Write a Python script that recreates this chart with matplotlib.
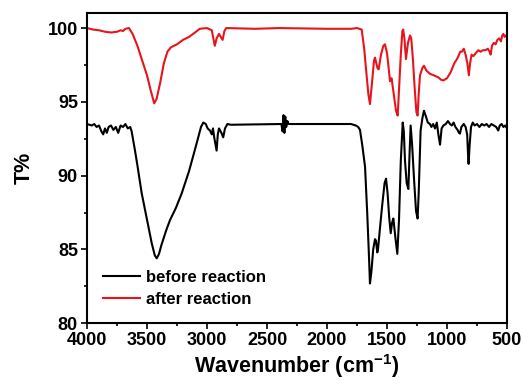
import matplotlib
matplotlib.use("Agg")
import matplotlib.pyplot as plt
from matplotlib.ticker import MultipleLocator

plt.rcParams['font.family'] = ['Liberation Sans', 'DejaVu Sans']
plt.rcParams['font.weight'] = 'bold'
plt.rcParams['mathtext.fontset'] = 'custom'
plt.rcParams['mathtext.bf'] = 'Liberation Sans:bold'
plt.rcParams['mathtext.rm'] = 'Liberation Sans:bold'
plt.rcParams['mathtext.default'] = 'bf'

# ---- data (wavenumber cm^-1, transmittance %) ----
after_wn = [4000, 3950, 3900, 3850, 3800, 3750, 3720, 3700, 3680, 3650, 3620, 3580, 3540,
            3500, 3470, 3440, 3420, 3390, 3360, 3330, 3300, 3250, 3200, 3150, 3100, 3060,
            3000, 2960, 2935, 2920, 2900, 2870, 2855, 2840, 2600, 2400, 2000, 1800, 1750,
            1711, 1690, 1670, 1655, 1642, 1625, 1608, 1600, 1580, 1570, 1550, 1530, 1517,
            1500, 1485, 1475, 1462, 1440, 1425, 1411, 1400, 1385, 1372, 1365, 1355, 1342,
            1325, 1308, 1298, 1285, 1270, 1255, 1245, 1236, 1225, 1205, 1192, 1170, 1142,
            1110, 1072, 1050, 1030, 1000, 970, 940, 910, 890, 875, 860, 845, 830, 818, 808,
            795, 780, 760, 740, 720, 700, 680, 660, 645, 636, 625, 610, 595, 580, 565, 550,
            540, 530, 520, 510, 500]
after_t = [100.0, 99.9, 99.85, 99.75, 99.7, 99.75, 99.85, 99.8, 99.95, 100.0, 99.6, 98.8, 97.8,
           96.8, 95.8, 94.9, 95.2, 96.3, 97.6, 98.4, 98.7, 98.9, 99.2, 99.4, 99.7, 99.95,
           100.0, 99.85, 98.8, 99.3, 99.6, 99.2, 99.8, 100.0, 99.95, 100.0, 99.95, 99.95, 100.0,
           99.9, 98.6, 96.8, 95.5, 94.85, 96.3, 97.8, 98.0, 97.3, 97.2, 98.2, 98.8, 98.9,
           98.3, 97.2, 96.4, 96.6, 95.3, 94.4, 94.07, 95.8, 98.2, 99.8, 99.9, 99.3, 97.9,
           99.0, 99.5, 99.3, 98.0, 96.0, 94.3, 94.07, 95.5, 96.8, 97.3, 97.45, 97.1, 96.9,
           96.8, 96.66, 96.5, 96.45, 96.6, 97.0, 97.6, 98.0, 98.4, 98.4, 98.6, 98.2, 97.6, 96.8, 97.6,
           98.2, 98.1, 98.3, 98.5, 98.4, 98.5, 98.5, 98.6, 98.4, 98.2, 98.8, 99.0, 98.9, 99.2, 99.3, 99.1,
           99.5, 99.6, 99.4, 99.5, 99.4]

before_wn = [4000, 3960, 3940, 3920, 3900, 3880, 3865, 3850, 3835, 3820, 3800, 3780, 3760,
             3740, 3720, 3700, 3680, 3660, 3640, 3628, 3600, 3580, 3544, 3500, 3460, 3435,
             3419, 3400, 3380, 3340, 3308, 3260, 3211, 3150, 3086, 3050, 3031, 3010, 2995,
             2975, 2960, 2950, 2940, 2920, 2910, 2900, 2880, 2865, 2850, 2830, 2800, 2400,
             2380, 2370, 2362, 2355, 2348, 2340, 2330, 2320, 2200, 2000, 1800, 1760, 1740,
             1725, 1705, 1683, 1665, 1650, 1642, 1630, 1615, 1600, 1592, 1581, 1575, 1558,
             1540, 1520, 1508, 1495, 1482, 1469, 1458, 1447, 1430, 1414, 1400, 1385, 1369,
             1360, 1350, 1336, 1322, 1312, 1303, 1290, 1275, 1258, 1245, 1236, 1220, 1205,
             1192, 1175, 1160, 1142, 1130, 1115, 1100, 1085, 1072, 1058, 1045, 1030, 1010,
             992, 975, 960, 945, 930, 912, 900, 892, 880, 860, 845, 832, 825, 820, 812, 800,
             785, 770, 750, 730, 710, 690, 670, 650, 630, 610, 590, 573, 560, 545, 530, 515, 500]
before_t = [93.5, 93.4, 93.5, 93.3, 93.4, 93.0, 92.8, 93.2, 92.9, 93.3, 93.4, 93.1, 93.3,
            92.9, 93.4, 93.3, 93.5, 93.2, 93.3, 93.0, 91.7, 90.7, 88.8, 87.0, 85.4, 84.6,
            84.4, 84.7, 85.3, 86.3, 87.0, 87.8, 88.8, 90.3, 92.2, 93.3, 93.6, 93.5, 93.2,
            93.06, 92.8, 93.2, 92.6, 91.7, 92.8, 93.2, 92.9, 92.6, 93.2, 93.5, 93.45, 93.5,
            93.5, 93.0, 94.1, 92.9, 94.0, 93.3, 93.7, 93.5, 93.5, 93.5, 93.5, 93.4, 93.3,
            93.1, 92.0, 90.6, 87.5, 84.5, 82.7, 83.5, 85.0, 85.7, 85.6, 84.8, 85.0, 86.5,
            88.0, 89.5, 89.8, 88.8, 87.2, 86.1, 86.8, 87.1, 85.8, 84.7, 87.0, 91.0, 93.6,
            93.0, 91.0, 89.5, 89.1, 91.5, 93.4, 92.0, 89.8, 87.6, 87.1, 88.8, 93.06, 93.9,
            94.4, 94.0, 93.6, 93.5, 93.3, 93.5, 93.2, 93.6, 92.8, 92.1, 93.2, 93.4, 93.5,
            93.7, 93.5, 93.4, 93.6, 93.3, 93.1, 92.9, 92.85, 93.3, 93.5, 93.3, 92.8, 91.5, 90.8, 92.0, 93.3,
            93.6, 93.4, 93.5, 93.3, 93.5, 93.4, 93.5, 93.3, 93.5, 93.4, 93.3, 93.06, 93.4, 93.5, 93.3, 93.4, 93.2]

series_labels = ["before reaction", "after reaction"]
x_ticks = [4000, 3500, 3000, 2500, 2000, 1500, 1000, 500]
y_ticks = [80, 85, 90, 95, 100]

fig = plt.figure(figsize=(5.23, 3.85), dpi=100)
ax = fig.add_axes([87/523, 1-323.3/385, 420/523, 310/385])

ax.plot(before_wn, before_t, color='black', lw=1.5, label=series_labels[0])
ax.plot(after_wn, after_t, color='#e8141c', lw=1.5, label=series_labels[1])

ax.set_xlim(4000, 500)
ax.set_ylim(80, 101)
ax.set_xticks(x_ticks)
ax.set_yticks(y_ticks)
ax.xaxis.set_minor_locator(MultipleLocator(250))
ax.yaxis.set_minor_locator(MultipleLocator(2.5))
ax.tick_params(which='major', direction='out', length=4.5, width=1.2, labelsize=13, pad=2)
ax.tick_params(which='minor', direction='out', length=2.5, width=1.2)
ax.tick_params(top=False, right=False, which='both')
for lab in ax.get_xticklabels() + ax.get_yticklabels():
    lab.set_fontweight('bold')
for s in ax.spines.values():
    s.set_linewidth(1.5)

ax.set_xlabel("Wavenumber (cm$^{-1}$)", fontsize=15.5, fontweight='bold', labelpad=2)
ax.set_ylabel("T%", fontsize=15.5, fontweight='bold', labelpad=9)

leg = ax.legend(loc='lower left', bbox_to_anchor=(0.015, 0.02), frameon=False,
                fontsize=12, handlelength=2.2, handletextpad=0.35, labelspacing=0.45,
                borderaxespad=0.2)
for t in leg.get_texts():
    t.set_fontweight('bold')

fig.savefig("out.png", dpi=100)
